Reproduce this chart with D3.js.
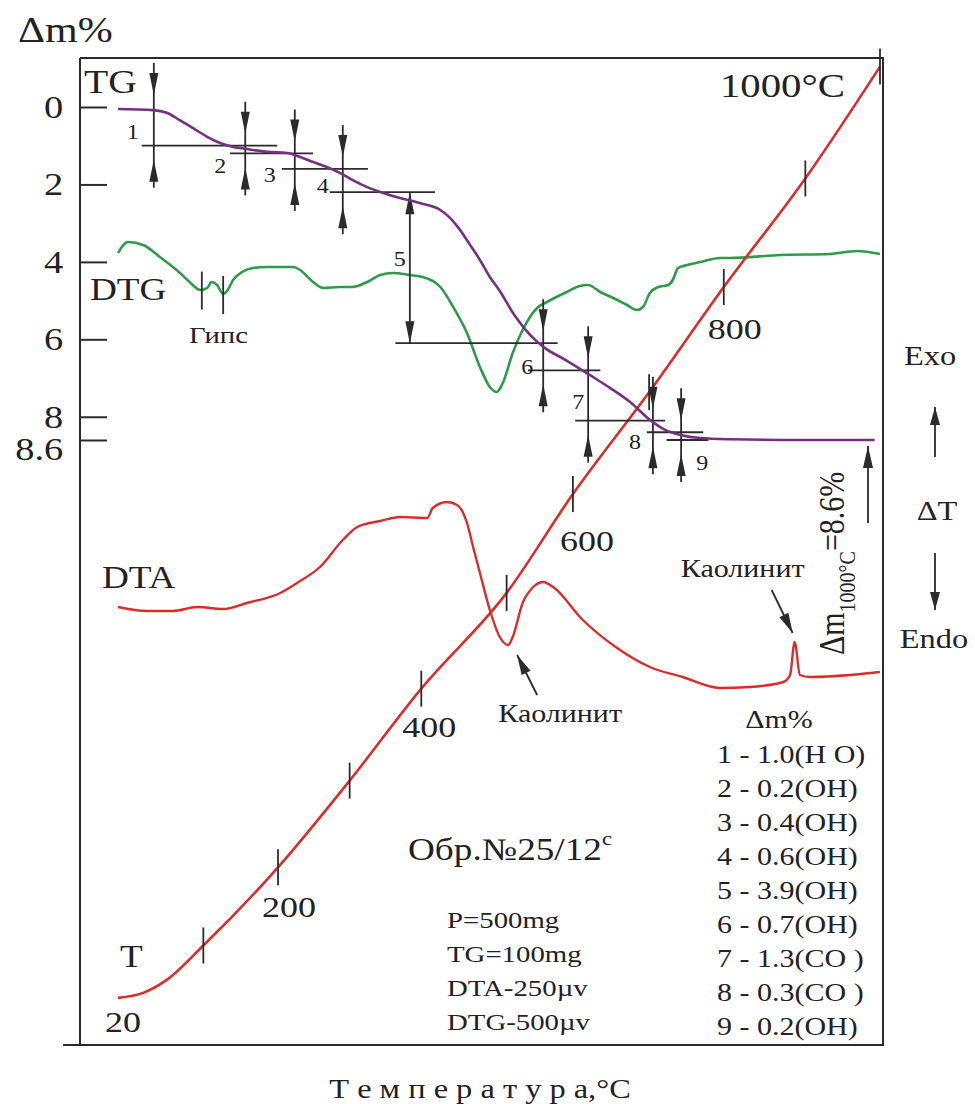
<!DOCTYPE html>
<html>
<head>
<meta charset="utf-8">
<script src="https://cdn.jsdelivr.net/npm/d3@7"></script>
<style>
  body { margin: 0; background: #fff; }
  svg text { font-family: "Liberation Serif", "Times New Roman", serif; fill: #222; }
</style>
</head>
<body>
<svg id="chart" width="975" height="1104"></svg>
<script>
// ---- Derivatogram data, sample №25/12c (time axis in minutes) ----

// Mass-loss axis ticks, %
const tgAxisTicks = [0, 2, 4, 6, 8, 8.6];

// TG curve: time (min) and cumulative mass loss (%)
const tgMin  = [0, 4.6, 6.4, 8.1, 9.8, 11.7, 13.4, 15.1, 16.7, 19.6, 22.2, 23.9, 25.6, 27.4, 29.1, 30.8, 32.7, 34.8, 37.0, 39.6,
                42.3, 43.6, 44.9, 46.2, 47.5, 48.8, 50.1, 52.1, 54.1, 56.0, 58.7, 61.9, 64.6, 67.2, 69.8, 71.8, 73.8, 76.4, 80.3, 89.5, 99.3];
const tgLoss = [0.05, 0.08, 0.15, 0.34, 0.54, 0.77, 0.93, 1.03, 1.08, 1.16, 1.19, 1.29, 1.42, 1.55, 1.70, 1.89, 2.07, 2.22, 2.35, 2.48,
                2.66, 2.87, 3.18, 3.56, 3.95, 4.39, 4.75, 5.40, 5.89, 6.22, 6.53, 6.92, 7.26, 7.62, 8.08, 8.34, 8.47, 8.55, 8.58, 8.60, 8.60];

// DTG curve: time (min) and rate signal (arb. units, larger = faster loss)
const dtgMin    = [0, 1.3, 3.3, 5.5, 7.7, 9.4, 10.8, 11.7, 12.3, 13.0, 13.8, 14.4, 15.1, 16.3, 17.7, 19.6, 23.0, 23.9, 25.6, 26.9,
                   29.1, 30.8, 32.7, 34.4, 36.1, 38.3, 40.0, 42.3, 44.0, 45.8, 47.5, 48.8, 49.7, 50.5, 51.8, 53.1, 55.0, 56.3, 58.9, 60.6,
                   61.7, 63.3, 65.0, 66.8, 68.1, 68.9, 69.8, 70.9, 72.2, 72.8, 73.5, 74.7, 76.4, 79.0, 80.3, 86.9, 93.4, 97.0, 100];
const dtgSignal = [1.3, 0.2, 0.5, 1.7, 3.0, 4.2, 5.0, 4.8, 4.2, 4.5, 5.4, 5.0, 4.0, 3.2, 2.8, 2.7, 2.7, 3.0, 4.2, 4.8,
                   4.7, 4.7, 4.2, 3.5, 3.3, 3.5, 3.7, 4.7, 6.7, 9.3, 12.7, 14.7, 15.2, 14.3, 11.3, 9.0, 6.8, 6.2, 5.2, 4.6,
                   4.5, 5.2, 5.8, 6.5, 7.0, 6.7, 5.3, 4.7, 4.5, 4.0, 2.8, 2.5, 2.2, 1.8, 1.8, 1.5, 1.4, 1.1, 1.4];

// DTA curve: time (min) and ΔT signal (arb. units, exo up)
const dtaMin    = [0, 3.8, 7.2, 10.4, 13.8, 16.9, 21.3, 23.5, 26.5, 29.5, 31.4, 34.4, 37.0, 40.6, 41.3, 43.2, 44.5, 45.8, 46.6, 47.5,
                   48.8, 50.1, 51.2, 51.8, 53.1, 54.5, 55.8, 57.1, 61.0, 65.5, 69.8, 74.1, 79.0, 82.9, 87.3, 88.2, 88.8, 89.5, 90.8, 96.1, 100];
const dtaSignal = [9.3, 8.9, 8.9, 9.3, 9.1, 9.7, 10.7, 11.7, 13.3, 16.0, 17.3, 17.9, 18.3, 18.2, 19.2, 19.8, 19.5, 17.7, 15.3, 12.7,
                   9.0, 6.3, 5.5, 6.3, 9.7, 11.3, 11.8, 11.3, 8.0, 5.2, 3.3, 2.3, 1.2, 1.3, 1.8, 2.5, 5.8, 2.5, 2.3, 2.5, 2.8];

// Heating curve: time (min) and Pt–PtRh thermocouple EMF (mV)
const heatMin = [0, 3.3, 6.4, 11.2, 21.0, 30.4, 39.8, 51.0, 59.7, 69.7, 79.5, 90.2, 100];
const heatMv  = [0.113, 0.164, 0.296, 0.646, 1.441, 2.323, 3.259, 4.233, 5.239, 6.275, 7.345, 8.449, 9.587];

// Temperature marks on the heating curve
const tempC   = [100, 200, 300, 400, 500, 600, 700, 800, 900, 1000];
const tempMin = [11.2, 21.0, 30.4, 39.8, 51.0, 59.7, 69.7, 79.5, 90.2, 100];
const tempMv  = [0.646, 1.441, 2.323, 3.259, 4.233, 5.239, 6.275, 7.345, 8.449, 9.587];
const tempLabelled = [20, 200, 400, 600, 800];

// Mass-loss steps read from TG
const stepNo       = [1, 2, 3, 4, 5, 6, 7, 8, 9];
const stepLoss     = [1.0, 0.2, 0.4, 0.6, 3.9, 0.7, 1.3, 0.3, 0.2];
const stepGas      = ["H O", "OH", "OH", "OH", "OH", "OH", "CO ", "CO ", "OH"];
const stepMin      = [4.7, 16.7, 23.2, 29.5, 38.3, 55.8, 61.7, 70.2, 73.9];
const stepLineFrom = [3.1, 14.7, 21.5, 27.8, 36.4, 53.8, 60.0, 69.4, 72.0];
const stepLineTo   = [20.9, 25.6, 32.8, 41.6, 57.7, 63.3, 71.8, 76.8, 77.5];

// Phase marks
const gypsumMin = [11.0, 13.8];
const kaoliniteMin = [51.2, 88.8];

// Run parameters
const sampleName = "Обр.№25/12";
const runParams = ["P=500mg", "TG=100mg", "DTA-250µv", "DTG-500µv"];

// ---- Layout ----
const svg = d3.select("#chart");
const ink = "#2b2b2b";
const purple = "#75307f", green = "#2f9a4a", red = "#d82d2b";
const frame = { left: 80, right: 883, top: 58, bottom: 1045 };
const stretch = 1.2;   // lettering is set slightly wide

const x    = d3.scaleLinear().domain([0, 100]).range([118, 880]);
const yTG  = d3.scaleLinear().domain([0, 8.6]).range([107, 440]);
const yDTG = d3.scaleLinear().domain([0, 15]).range([240, 390]);
const yDTA = d3.scaleLinear().domain([0, 20]).range([700, 500]);
const yT   = d3.scaleLinear().domain([0, 10]).range([1009, 26]);

// piecewise look-ups along the recorded curves
const dtgAt = d3.scaleLinear().domain(dtgMin).range(dtgSignal);
const dtaAt = d3.scaleLinear().domain(dtaMin).range(dtaSignal);

function label(g, px, py, str, size, anchor = "start") {
  return g.append("text")
    .attr("transform", `translate(${px},${py}) scale(${stretch},1)`)
    .attr("font-size", size)
    .attr("text-anchor", anchor)
    .text(str);
}

function head(g, tx, ty, dx, dy, len = 22, hw = 4.5) {
  const n = Math.hypot(dx, dy); dx /= n; dy /= n;
  const bx = tx - dx * len, by = ty - dy * len;
  const px = -dy * hw, py = dx * hw;
  g.append("path")
    .attr("d", `M${tx},${ty}L${bx + px},${by + py}L${bx - px},${by - py}Z`)
    .attr("fill", ink);
}

function arrow(g, x1, y1, x2, y2, len = 20, hw = 5) {
  g.append("line").attr("x1", x1).attr("y1", y1).attr("x2", x2).attr("y2", y2)
    .attr("stroke", ink).attr("stroke-width", 1.8);
  head(g, x2, y2, x2 - x1, y2 - y1, len, hw);
}

// ---- Frame ----
svg.append("path")
  .attr("d", `M${frame.left},${frame.top}H${frame.right}V${frame.bottom}H63M${frame.left},${frame.bottom}V${frame.top}`)
  .attr("fill", "none").attr("stroke", ink).attr("stroke-width", 2);

// ---- Mass-loss axis ----
const yAxis = d3.axisLeft(yTG).tickValues(tgAxisTicks).tickSizeInner(-27).tickSizeOuter(0)
  .tickPadding(14).tickFormat(d3.format("~g"));
const ga = svg.append("g").attr("transform", `translate(${frame.left},0)`).call(yAxis);
ga.select(".domain").remove();
ga.selectAll(".tick line").attr("stroke", ink).attr("stroke-width", 2);
ga.selectAll(".tick text")
  .attr("font-size", 32).attr("font-family", null).attr("fill", "#222")
  .attr("transform", `scale(${stretch},1)`)
  .filter(d => d === 8.6).attr("y", 9);
ga.attr("font-family", null).attr("font-size", null);

label(svg, 18, 42, "Δm%", 35);

// ---- Curves ----
const line = (xs, ys, yScale) => d3.line()
  .x((d, i) => x(xs[i])).y((d, i) => yScale(ys[i]))
  .curve(d3.curveMonotoneX)(xs);

svg.append("path").attr("d", line(dtgMin, dtgSignal, yDTG))
  .attr("fill", "none").attr("stroke", green).attr("stroke-width", 2.6);
svg.append("path").attr("d", line(dtaMin, dtaSignal, yDTA))
  .attr("fill", "none").attr("stroke", red).attr("stroke-width", 2.4);
svg.append("path").attr("d", line(heatMin, heatMv, yT))
  .attr("fill", "none").attr("stroke", red).attr("stroke-width", 2.6);

// ---- TG step markers ----
const gs = svg.append("g");
const cum = Array.from(d3.cumsum(stepLoss));
const stepLabelDx = [-21, -25, -25, -20, -10, -16, -10, -18, 21];
const stepLabelDy = [6, 17, 14, 6, -8, 10, 7, 16, 27];
stepNo.forEach((n, i) => {
  const yt = yTG(i ? cum[i - 1] : 0), yb = yTG(cum[i]), xv = x(stepMin[i]);
  gs.append("line").attr("x1", x(stepLineFrom[i])).attr("x2", x(stepLineTo[i]))
    .attr("y1", yb).attr("y2", yb).attr("stroke", ink).attr("stroke-width", 1.8);
  if (n === 5) {
    gs.append("line").attr("x1", xv).attr("x2", xv).attr("y1", yt).attr("y2", yb)
      .attr("stroke", ink).attr("stroke-width", 1.8);
    head(gs, xv, yt, 0, -1);
    head(gs, xv, yb, 0, 1);
  } else {
    const tipTop = yt - 12, tipBot = yb + 14;
    gs.append("line").attr("x1", xv).attr("x2", xv).attr("y1", tipTop - 32).attr("y2", tipBot + 28)
      .attr("stroke", ink).attr("stroke-width", 1.8);
    head(gs, xv, tipTop, 0, 1);
    head(gs, xv, tipBot, 0, -1);
  }
  label(gs, xv + stepLabelDx[i], (yt + yb) / 2 + stepLabelDy[i], String(n), 20, "middle")
    .attr("dominant-baseline", "central");
});

// TG curve on top of the markers
svg.append("path").attr("d", line(tgMin, tgLoss, yTG))
  .attr("fill", "none").attr("stroke", purple).attr("stroke-width", 2.6);

// ---- Heating curve marks ----
const gt = svg.append("g");
tempC.forEach((c, i) => {
  const px = x(tempMin[i]), py = yT(tempMv[i]);
  gt.append("line").attr("x1", px).attr("x2", px).attr("y1", py - 18).attr("y2", py + 18)
    .attr("stroke", ink).attr("stroke-width", 1.8);
});
const tempLabelOffset = { 20: [5, 34], 200: [11, 50], 400: [8, 48], 600: [14, 57], 800: [11, 52] };
tempLabelled.forEach(c => {
  const i = tempC.indexOf(c);
  const px = i < 0 ? x(heatMin[0]) : x(tempMin[i]);
  const py = i < 0 ? yT(heatMv[0]) : yT(tempMv[i]);
  const [dx, dy] = tempLabelOffset[c];
  label(gt, px + dx, py + dy, String(c), 30, "middle");
});
label(gt, x(100) - 35, yT(9.587) + 30, "1000°C", 34, "end");

// ---- Curve names ----
label(svg, 84, 93, "TG", 33);
label(svg, 90, 300, "DTG", 31);
label(svg, 102, 588, "DTA", 31);
label(svg, 120, 967, "T", 31);

// ---- Gypsum marks on DTG ----
gypsumMin.forEach(t => {
  const px = x(t), py = yDTG(dtgAt(t));
  svg.append("line").attr("x1", px).attr("x2", px).attr("y1", py - 18).attr("y2", py + 20)
    .attr("stroke", ink).attr("stroke-width", 1.8);
});
label(svg, d3.mean(gypsumMin, x) + 6, 343, "Гипс", 24, "middle");

// ---- Kaolinite marks on DTA ----
{
  const t0 = kaoliniteMin[0], px0 = x(t0), py0 = yDTA(dtaAt(t0));
  arrow(svg, px0 + 29, py0 + 50, px0 + 9, py0 + 10);
  label(svg, px0 + 52, py0 + 77, "Каолинит", 25, "middle");
  const t1 = kaoliniteMin[1], px1 = x(t1), py1 = yDTA(dtaAt(t1));
  arrow(svg, px1 - 23, py1 - 52, px1 - 2, py1 - 9);
  label(svg, px1 - 52, py1 - 65, "Каолинит", 25, "middle");
}

// ---- Total loss annotation ----
{
  const totalLoss = d3.sum(stepLoss);
  const yEnd = yTG(totalLoss);
  const t = svg.append("text")
    .attr("transform", `translate(844,655) rotate(-90) scale(1,${stretch})`)
    .attr("font-size", 30);
  t.append("tspan").text("Δm");
  t.append("tspan").attr("font-size", 20).attr("dy", 9).text("1000°C");
  t.append("tspan").attr("dy", -9).text(`=${totalLoss.toFixed(1)}%`);
  arrow(svg, 868, 523, 868, yEnd + 6, 22, 5);
}

// ---- ΔT direction ----
label(svg, 930, 365, "Exo", 27, "middle");
arrow(svg, 935, 457, 935, 407, 18, 5);
label(svg, 937, 520, "ΔT", 27, "middle");
arrow(svg, 935, 553, 935, 610, 18, 5);
label(svg, 934, 648, "Endo", 27, "middle");

// ---- Step table ----
label(svg, 779, 728, "Δm%", 25, "middle");
stepNo.forEach((n, i) => {
  label(svg, 717, 763 + 34 * i, `${n} - ${stepLoss[i].toFixed(1)}(${stepGas[i]})`, 25);
});

// ---- Sample and run parameters ----
{
  const t = label(svg, 408, 860, sampleName, 31);
  t.append("tspan").attr("font-size", 19).attr("dy", -15).text("c");
  runParams.forEach((p, i) => label(svg, 447, 928 + 34 * i, p, 24));
}

// ---- Axis title ----
label(svg, 480, 1098, "Т е м п е р а т у р а,°C", 27, "middle");
</script>
</body>
</html>
